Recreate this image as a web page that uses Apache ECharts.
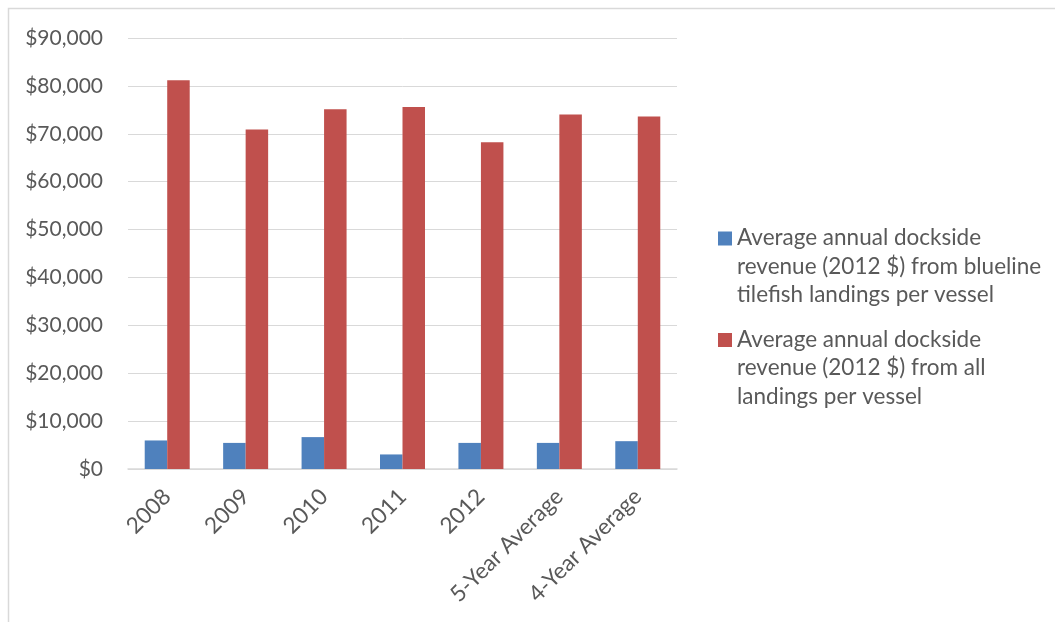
<!DOCTYPE html>
<html>
<head>
<meta charset="utf-8">
<script src="https://cdn.jsdelivr.net/npm/echarts@6/dist/echarts.min.js"></script>
<style>
  html, body { margin: 0; padding: 0; background: #fff; }
  #chart { width: 1055px; height: 622px; }
</style>
</head>
<body>
<div id="chart"></div>
<script>
// Revenue per vessel, in 2012 dollars
const categories = ['2008', '2009', '2010', '2011', '2012', '5-Year Average', '4-Year Average'];
const bluelineRevenue = [5960, 5450, 6660, 3040, 5450, 5450, 5810];
const allLandingsRevenue = [81200, 70900, 75100, 75600, 68250, 74000, 73600];
const seriesNames = [
  'Average annual dockside\nrevenue (2012 $) from blueline\ntilefish landings per vessel',
  'Average annual dockside\nrevenue (2012 $) from all\nlandings per vessel'
];

const font = 'Lato, "Open Sans", sans-serif';
const textColor = '#595959';
const legendLine = 28.3;
const swatch = 14;
// Legend item box spans all three text lines; the swatch path keeps a
// zero-area point at the bottom so the filled square lands on line one.
const itemBox = swatch + legendLine * 2;
const swatchIcon = 'path://M0,0L14,0L14,14L0,14Z M0,' + (itemBox - 0.6) + 'L0,' + (itemBox - 0.6);

const chart = echarts.init(document.getElementById('chart'));
chart.setOption({
  animation: false,
  backgroundColor: '#fff',
  graphic: [{
    type: 'rect',
    shape: { x: 8.5, y: 8.5, width: 1100, height: 700 },
    style: { fill: 'none', stroke: '#d9d9d9', lineWidth: 1.5 },
    silent: true
  }],
  grid: { left: 128, right: 378, top: 38, bottom: 153 },
  legend: {
    orient: 'vertical',
    left: 718,
    top: 224,
    padding: 0,
    itemWidth: swatch,
    itemHeight: itemBox,
    itemGap: 16.7,
    icon: swatchIcon,
    symbolKeepAspect: true,
    textStyle: {
      fontFamily: font, fontSize: 22.5, color: textColor,
      lineHeight: legendLine
    },
    data: seriesNames
  },
  xAxis: {
    type: 'category',
    data: categories,
    axisLine: { lineStyle: { color: '#d9d9d9', width: 1.5 } },
    axisTick: { show: false },
    axisLabel: { rotate: 45, fontFamily: font, fontSize: 22.5, color: textColor, margin: 24, interval: 0 }
  },
  yAxis: {
    type: 'value',
    min: 0,
    max: 90000,
    interval: 10000,
    axisLine: { show: false },
    axisTick: { show: false },
    splitLine: { lineStyle: { color: '#d9d9d9', width: 1 } },
    axisLabel: {
      fontFamily: font, fontSize: 21, color: textColor, margin: 25,
      formatter: v => '$' + v.toLocaleString('en-US')
    }
  },
  series: [
    {
      name: seriesNames[0], type: 'bar', data: bluelineRevenue,
      barWidth: 22.5, barGap: '0%',
      itemStyle: { color: '#4f81bd' }
    },
    {
      name: seriesNames[1], type: 'bar', data: allLandingsRevenue,
      barWidth: 22.5, barGap: '0%',
      itemStyle: { color: '#c0504d' }
    }
  ]
});
</script>
</body>
</html>
